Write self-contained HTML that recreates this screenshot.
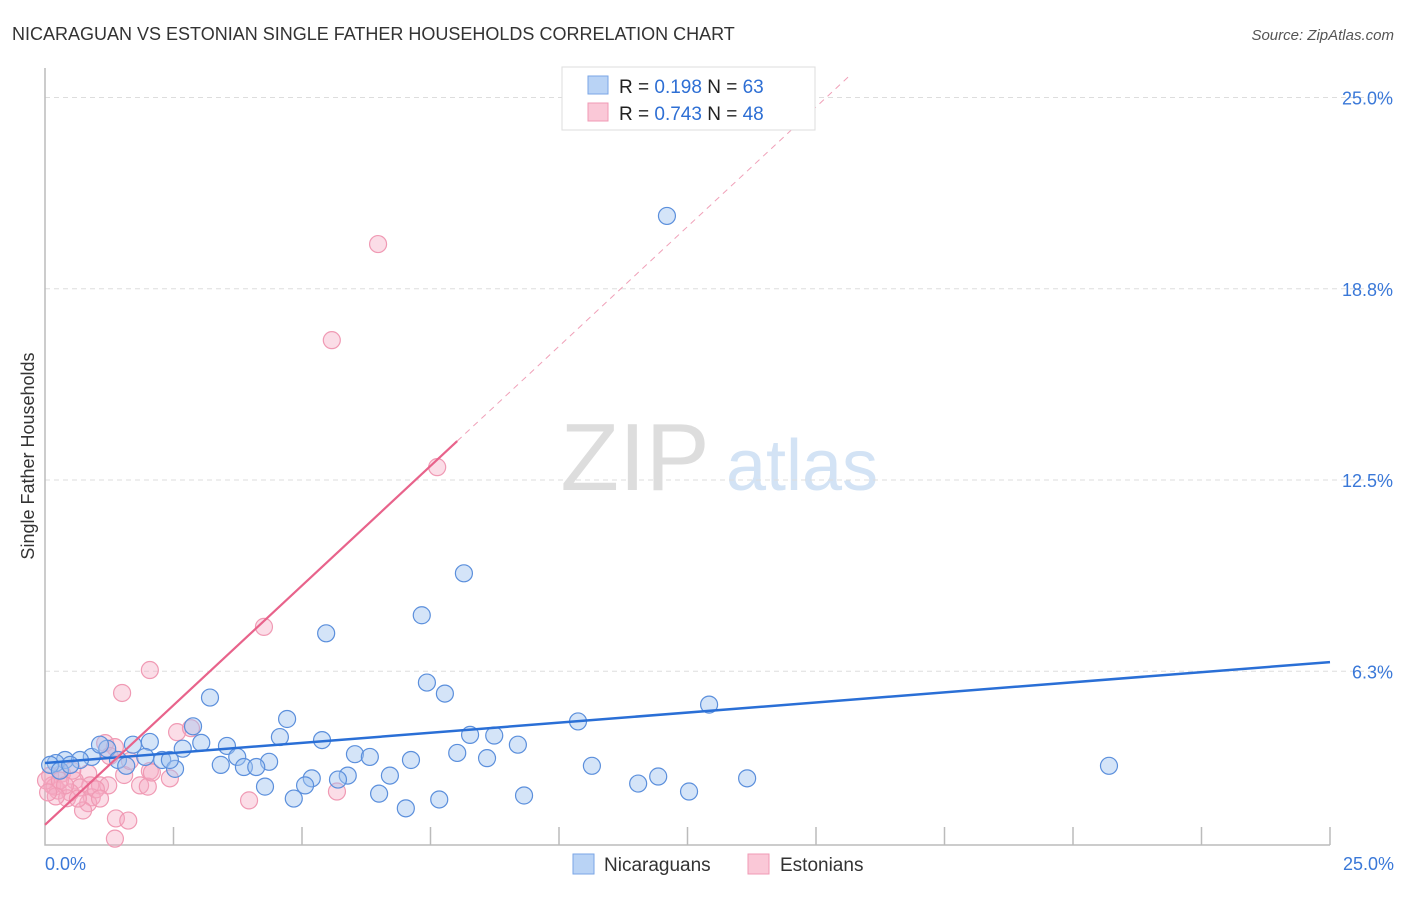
<!DOCTYPE html>
<html><head><meta charset="utf-8"><style>
body{margin:0;background:#fff;font-family:"Liberation Sans",sans-serif}
svg text{font-family:"Liberation Sans",sans-serif}
</style></head><body>
<svg id="chart" width="1406" height="892" xmlns="http://www.w3.org/2000/svg">
<text x="12" y="40" font-size="18" fill="#333">NICARAGUAN VS ESTONIAN SINGLE FATHER HOUSEHOLDS CORRELATION CHART</text>
<text x="1394" y="40" font-size="15" fill="#555" font-style="italic" text-anchor="end">Source: ZipAtlas.com</text>
<text x="34" y="456" font-size="18" fill="#333" transform="rotate(-90 34 456)" text-anchor="middle">Single Father Households</text>
<g><text x="635" y="490" font-size="96" fill="#ddd" font-family="Liberation Serif" text-anchor="middle">ZIP</text><text x="802" y="490" font-size="72" fill="#d3e3f5" text-anchor="middle">atlas</text></g>
<g id="grid"></g><g id="axes"></g><g id="pts"></g><g id="lines"></g>
<g>
<rect x="562" y="67" width="253" height="63" fill="#fff" stroke="#ddd"/>
<rect x="588" y="76" width="20" height="18" fill="#b9d3f5" stroke="#7aa6e6"/>
<rect x="588" y="103" width="20" height="18" fill="#fac8d7" stroke="#f09ab4"/>
<text x="619" y="93" font-size="19" fill="#222">R = <tspan fill="#2e6fd4">0.198</tspan>    N = <tspan fill="#2e6fd4">63</tspan></text>
<text x="619" y="120" font-size="19" fill="#222">R = <tspan fill="#2e6fd4">0.743</tspan>    N = <tspan fill="#2e6fd4">48</tspan></text>
</g>
<g>
<rect x="573" y="854" width="21" height="20" fill="#b9d3f5" stroke="#7aa6e6"/>
<text x="604" y="871" font-size="19" fill="#333">Nicaraguans</text>
<rect x="748" y="854" width="21" height="20" fill="#fac8d7" stroke="#f09ab4"/>
<text x="780" y="871" font-size="19" fill="#333">Estonians</text>
</g>
</svg>
<script>
const yTicks=[6.25,12.5,18.75,25];
const yTickLabels=["6.3%","12.5%","18.8%","25.0%"];
const xTickLabels=["0.0%","25.0%"];
const blueX=[12.1,8.15,7.33,5.47,7.43,7.78,3.21,12.92,10.37,4.71,2.88,8.27,8.74,9.2,5.39,4.57,2.04,3.04,3.54,1.71,2.68,1.21,6.03,6.32,8.02,8.6,7.12,3.74,2.28,1.95,1.42,0.91,0.39,0.21,0.1,4.36,3.42,3.87,4.11,1.58,2.53,10.64,20.7,5.89,6.71,5.19,5.7,11.93,13.66,11.54,5.06,4.28,6.5,4.84,9.32,12.53,7.67,7.02,0.29,0.68,1.07,2.43,0.49];
const blueY=[21.13,9.45,8.08,7.49,5.88,5.52,5.39,5.16,4.61,4.69,4.45,4.17,4.15,3.85,4.0,4.1,3.94,3.91,3.81,3.85,3.72,3.72,3.54,3.45,3.58,3.41,3.35,3.45,3.35,3.45,3.35,3.45,3.35,3.25,3.19,3.29,3.19,3.12,3.12,3.16,3.06,3.16,3.16,2.84,2.84,2.75,2.71,2.81,2.75,2.58,2.52,2.48,2.25,2.09,2.19,2.32,2.06,1.77,3.0,3.35,3.85,3.35,3.19];
const pinkX=[6.48,5.58,7.63,4.26,2.04,1.5,2.57,2.84,1.17,1.36,2.04,1.54,2.43,0.84,0.33,0.1,0.58,0.88,1.07,0.68,0.25,0.14,1.85,2.0,1.23,0.49,0.91,0.84,0.43,0.19,0.74,1.38,1.62,1.36,3.97,5.68,2.08,0.02,0.29,0.53,0.99,0.39,0.64,1.07,1.65,1.26,0.21,0.06];
const pinkY=[20.21,17.07,12.92,7.7,6.29,5.54,4.26,4.39,3.9,3.77,2.99,2.86,2.75,2.91,2.91,2.84,2.68,2.52,2.52,2.45,2.35,2.52,2.52,2.48,2.52,2.29,2.13,1.94,2.1,2.48,1.7,1.44,1.37,0.78,2.03,2.32,2.94,2.68,2.68,3.0,2.39,2.52,2.09,2.09,3.32,3.48,2.16,2.29];
const blueFit=[3.25,0.132];
const pinkFit=[1.23,1.564];
const sx=v=>45+v*51.4, sy=v=>862.5-v*30.6;
const NS="http://www.w3.org/2000/svg";
function mk(p,t,a){const e=document.createElementNS(NS,t);for(const k in a)e.setAttribute(k,a[k]);document.getElementById(p).appendChild(e);return e;}
yTicks.forEach((t,i)=>{
 const g=mk('grid','line',{x1:45,x2:1395,y1:sy(t),y2:sy(t),stroke:'#ddd','stroke-dasharray':'5,4'});
 
 
 const l=mk('grid','text',{x:1393,y:sy(t)+7,'font-size':18,fill:'#3a78d8','text-anchor':'end'});
 l.textContent=yTickLabels[i];
 
 
});
const ax=mk('axes','path',{d:'M45,68V845H1330',stroke:'#bbb',fill:'none','stroke-width':1.5});


for(let i=1;i<=10;i++){const t=mk('axes','line',{x1:sx(i*2.5),x2:sx(i*2.5),y1:827,y2:845,stroke:'#bbb','stroke-width':1.5});
 
 }
[[0,'start',45],[1,'end',1394]].forEach(([i,a,x])=>{const l=mk('axes','text',{x:x,y:870,'font-size':18,fill:'#3a78d8','text-anchor':a});l.textContent=xTickLabels[i];
 
 });
pinkX.forEach((x,i)=>{const c=mk('pts','circle',{cx:sx(x),cy:sy(pinkY[i]),r:8.5,fill:'rgba(246,170,194,0.4)',stroke:'#f09ab4','stroke-width':1.2});
 
 });
blueX.forEach((x,i)=>{const c=mk('pts','circle',{cx:sx(x),cy:sy(blueY[i]),r:8.5,fill:'rgba(160,195,240,0.45)',stroke:'#5b8fdc','stroke-width':1.2});
 
 });
const bl=mk('lines','line',{x1:sx(0),y1:sy(blueFit[0]),x2:sx(25),y2:sy(blueFit[0]+25*blueFit[1]),stroke:'#2a6fd6','stroke-width':2.5});


const xe=8.02;
const pl=mk('lines','line',{x1:sx(0),y1:sy(pinkFit[0]),x2:sx(xe),y2:sy(pinkFit[0]+xe*pinkFit[1]),stroke:'#e8638b','stroke-width':2.2});


const xd=(25.7-pinkFit[0])/pinkFit[1];
const pd=mk('lines','line',{x1:sx(xe),y1:sy(pinkFit[0]+xe*pinkFit[1]),x2:sx(xd),y2:sy(pinkFit[0]+xd*pinkFit[1]),stroke:'#f0a0b8','stroke-width':1,'stroke-dasharray':'6,5'});


</script>
</body></html>
